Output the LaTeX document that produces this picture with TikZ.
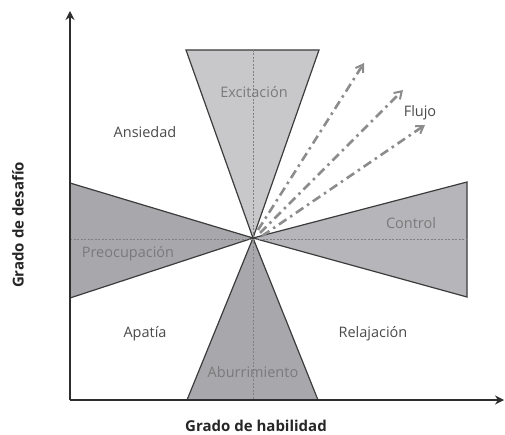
\documentclass[tikz,border=0pt]{standalone}
\usepackage{fontspec}
\setmainfont{Open Sans}
\usetikzlibrary{arrows.meta}
\definecolor{tlight}{HTML}{C8C8CA}
\definecolor{tmid}{HTML}{B6B6BA}
\definecolor{tdark}{HTML}{A8A8AC}
\definecolor{axisc}{HTML}{2E2E2E}
\definecolor{edgec}{HTML}{3C3C3C}
\definecolor{intext}{HTML}{7A7A7A}
\definecolor{regtext}{HTML}{4A4A4A}
\definecolor{flujoc}{HTML}{8C8C8C}
\tikzset{
  axisline/.style={line width=2.6pt, draw=axisc, -{Stealth[length=9pt,width=9pt]}},
  tri/.style={draw=edgec, line width=1.2pt, line join=miter},
  guide/.style={draw=gray, line width=0.6pt, dash pattern=on 2pt off 1.5pt},
  flujo/.style={draw=flujoc, line width=2.6pt, dash pattern=on 9pt off 4.5pt on 2.5pt off 4.5pt, -{Straight Barb[length=7pt,width=9pt,line width=2pt]}},
  intri/.style={font=\fontsize{14.5}{16}\selectfont, text=intext},
  region/.style={font=\fontsize{14.5}{16}\selectfont, text=regtext},
  axislabel/.style={font=\bfseries\fontsize{15}{17}\selectfont, text=black!85, inner sep=0pt}
}
\begin{document}
\begin{tikzpicture}[x=1pt,y=-1pt]
\useasboundingbox (0,0) rectangle (505,435);
% key points
\coordinate (c) at (253,238);
\coordinate (o) at (70,400);
\coordinate (ytip) at (70,11);
\coordinate (xtip) at (504,400);
\coordinate (t1) at (186,50);
\coordinate (t2) at (319,50);
\coordinate (b1) at (187,400);
\coordinate (b2) at (318,400);
\coordinate (l1) at (70,183);
\coordinate (l2) at (70,298);
\coordinate (r1) at (467,182);
\coordinate (r2) at (467,297);
% triangles
\draw[tri, fill=tlight] (c) -- (t1) -- (t2) -- cycle;
\draw[tri, fill=tmid] (c) -- (r1) -- (r2) -- cycle;
\draw[tri, fill=tdark] (c) -- (l1) -- (l2) -- cycle;
\draw[tri, fill=tdark] (c) -- (b1) -- (b2) -- cycle;
% guides
\coordinate (vt) at (253,50);
\coordinate (vb) at (253,400);
\coordinate (hl) at (70,239);
\coordinate (hr) at (467,239);
\draw[guide] (vt) -- (vb);
\draw[guide] (hl) -- (hr);
% flujo arrows
\coordinate (f1s) at (258,230);
\coordinate (f2s) at (260,233);
\coordinate (f3s) at (262,236);
\coordinate (f1) at (364,63);
\coordinate (f2) at (403,90);
\coordinate (f3) at (425,125);
\draw[flujo] (f1s) -- (f1);
\draw[flujo] (f2s) -- (f2);
\draw[flujo] (f3s) -- (f3);
% axes
\draw[axisline] (o) -- (ytip);
\draw[axisline] (o) -- (xtip);
% labels
\node[intri] (exc) at (254,92) {Excitación};
\node[intri] (ctl) at (411,223) {Control};
\node[intri] (pre) at (128,254) {Preocupación};
\node[intri] (abu) at (253,372) {Aburrimiento};
\node[region] (ans) at (145,132) {Ansiedad};
\node[region] (apa) at (145,334) {Apatía};
\node[region] (rel) at (373,334) {Relajación};
\node[region] (flu) at (420,113) {Flujo};
\node[axislabel] (gh) at (256,426) {Grado de habilidad};
\node[axislabel, rotate=90] (gd) at (18,225) {Grado de desafío};
\end{tikzpicture}
\end{document}
